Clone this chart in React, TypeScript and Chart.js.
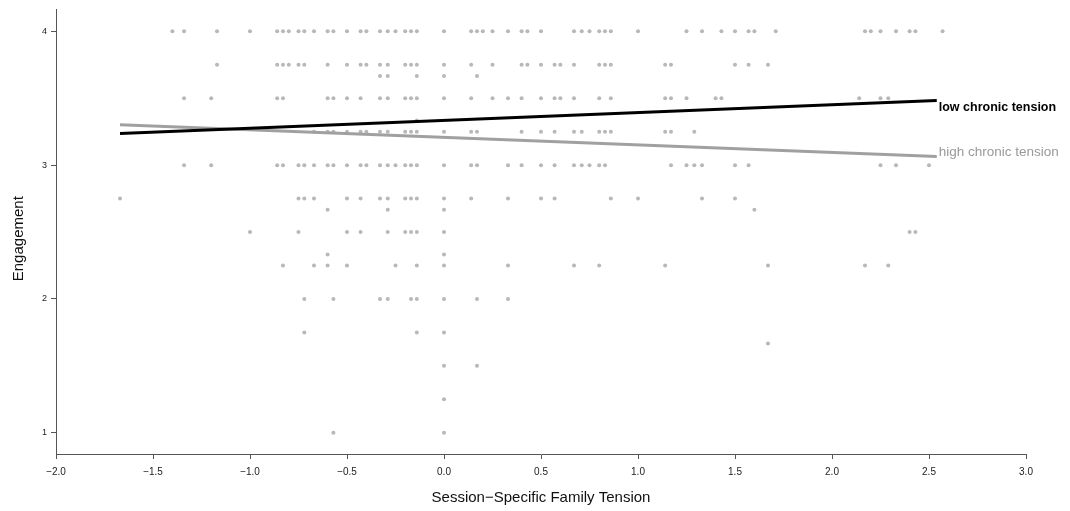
import React, { useEffect, useRef } from "react";
import { Chart, registerables } from "chart.js";

Chart.register(...registerables);

// ---- axis ticks ----
const xTickValues = [-2.0, -1.5, -1.0, -0.5, 0.0, 0.5, 1.0, 1.5, 2.0, 2.5, 3.0];
const yTickValues = [1, 2, 3, 4];
const xRange = [-2.0, 3.0];
const yRange = [0.841, 4.164];

// ---- fitted lines ----
const lineX = [-1.67, 2.54];
const lowChronicY = [3.236, 3.483];
const highChronicY = [3.302, 3.065];
const lowLabel = "low chronic tension";
const highLabel = "high chronic tension";
const xTitle = "Session\u2212Specific Family Tension";
const yTitle = "Engagement";

// ---- observed points: session-specific tension (x) at each engagement level ----
const eng400 = [-1.40, -1.34, -1.17, -1.00, -0.86, -0.83, -0.80, -0.75, -0.72, -0.67, -0.60, -0.57, -0.50, -0.43, -0.40, -0.33, -0.29, -0.25, -0.20, -0.17, -0.14, 0, 0.14, 0.17, 0.20, 0.25, 0.33, 0.40, 0.43, 0.50, 0.67, 0.71, 0.75, 0.80, 0.83, 0.86, 1.00, 1.25, 1.33, 1.43, 1.50, 1.57, 1.60, 1.71, 2.17, 2.20, 2.25, 2.33, 2.40, 2.43, 2.57];
const eng375 = [-1.17, -0.86, -0.83, -0.80, -0.75, -0.72, -0.60, -0.50, -0.43, -0.40, -0.33, -0.29, -0.20, -0.17, -0.14, 0, 0.14, 0.25, 0.40, 0.43, 0.50, 0.57, 0.60, 0.67, 0.80, 0.83, 0.86, 1.14, 1.17, 1.50, 1.57, 1.67];
const eng367 = [-0.33, -0.29, -0.14, 0, 0.17];
const eng350 = [-1.34, -1.20, -0.86, -0.83, -0.60, -0.57, -0.50, -0.43, -0.33, -0.29, -0.20, -0.17, -0.14, 0, 0.14, 0.25, 0.33, 0.40, 0.50, 0.57, 0.60, 0.67, 0.80, 0.86, 1.14, 1.17, 1.25, 1.40, 1.43, 2.14, 2.25, 2.29];
const eng333 = [-0.14];
const eng325 = [-0.67, -0.60, -0.57, -0.50, -0.43, -0.40, -0.33, -0.29, -0.20, -0.17, -0.14, 0, 0.14, 0.17, 0.40, 0.50, 0.57, 0.67, 0.71, 0.80, 0.83, 0.86, 1.14, 1.17, 1.29];
const eng300 = [-1.34, -1.20, -0.86, -0.83, -0.75, -0.72, -0.67, -0.60, -0.57, -0.50, -0.43, -0.40, -0.33, -0.29, -0.25, -0.20, -0.17, -0.14, 0, 0.14, 0.17, 0.33, 0.40, 0.50, 0.57, 0.67, 0.71, 0.75, 0.80, 0.83, 1.17, 1.25, 1.29, 1.33, 1.50, 1.57, 2.25, 2.33, 2.50];
const eng275 = [-1.67, -0.75, -0.72, -0.67, -0.50, -0.43, -0.33, -0.29, -0.20, -0.17, -0.14, 0, 0.14, 0.33, 0.50, 0.57, 0.86, 1.00, 1.33, 1.50];
const eng267 = [-0.60, -0.29, 0, 1.60];
const eng250 = [-1.00, -0.75, -0.50, -0.43, -0.29, -0.20, -0.17, -0.14, 0, 2.40, 2.43];
const eng233 = [-0.60, 0];
const eng225 = [-0.83, -0.67, -0.60, -0.50, -0.25, -0.14, 0, 0.33, 0.67, 0.80, 1.14, 1.67, 2.17, 2.29];
const eng200 = [-0.72, -0.57, -0.33, -0.29, -0.17, -0.14, 0, 0.17, 0.33];
const eng175 = [-0.72, -0.14, 0];
const eng167 = [1.67];
const eng150 = [0, 0.17];
const eng125 = [0];
const eng100 = [-0.57, 0];

const levelRows: [number, number[]][] = [
  [4.0, eng400], [3.75, eng375], [3.667, eng367], [3.5, eng350], [3.333, eng333],
  [3.25, eng325], [3.0, eng300], [2.75, eng275], [2.667, eng267], [2.5, eng250],
  [2.333, eng233], [2.25, eng225], [2.0, eng200], [1.75, eng175], [1.667, eng167],
  [1.5, eng150], [1.25, eng125], [1.0, eng100],
];

const FONT = "'Liberation Sans', Arial, Helvetica, sans-serif";

function fmtX(v: number): string {
  const s = Math.abs(v).toFixed(1);
  return v < 0 ? "\u2212" + s : s;
}

const lineLabelPlugin = {
  id: "lineLabels",
  afterDatasetsDraw(chart: any) {
    const ctx = chart.ctx;
    const draw = (dsIndex: number, text: string, color: string, weight: string, size: number, dy: number) => {
      const meta = chart.getDatasetMeta(dsIndex);
      const pts = meta.data;
      const last = pts[pts.length - 1];
      ctx.save();
      ctx.font = `${weight} ${size}px ${FONT}`;
      ctx.fillStyle = color;
      ctx.textAlign = "left";
      ctx.textBaseline = "middle";
      ctx.fillText(text, last.x + 2, last.y + dy);
      ctx.restore();
    };
    draw(0, lowLabel, "#000000", "bold", 12.5, 7);
    draw(1, highLabel, "#999999", "normal", 13.5, -4);

    // y-axis title, centred slightly below the axis midpoint as in the reference
    const area = chart.chartArea;
    ctx.save();
    ctx.font = `normal 15px ${FONT}`;
    ctx.fillStyle = "#111";
    ctx.textAlign = "center";
    ctx.textBaseline = "middle";
    ctx.translate(19, (area.top + area.bottom) / 2 + 7);
    ctx.rotate(-Math.PI / 2);
    ctx.fillText(yTitle, 0, 0);
    ctx.restore();
  },
};

export default function App() {
  const ref = useRef<HTMLCanvasElement | null>(null);

  useEffect(() => {
    if (!ref.current) return;
    const points: { x: number; y: number }[] = [];
    levelRows.forEach(([y, xs]) => xs.forEach((x) => points.push({ x, y })));

    const chart = new Chart(ref.current, {
      type: "scatter",
      data: {
        datasets: [
          {
            type: "line",
            label: lowLabel,
            data: lineX.map((x, i) => ({ x, y: lowChronicY[i] })),
            borderColor: "#000000",
            borderWidth: 3,
            pointRadius: 0,
            fill: false,
            order: 0,
          } as any,
          {
            type: "line",
            label: highLabel,
            data: lineX.map((x, i) => ({ x, y: highChronicY[i] })),
            borderColor: "#a0a0a0",
            borderWidth: 3,
            pointRadius: 0,
            fill: false,
            order: 1,
          } as any,
          {
            label: "observations",
            data: points,
            backgroundColor: "#b8b8b8",
            borderWidth: 0,
            pointRadius: 2,
            order: 2,
          },
        ],
      },
      options: {
        animation: false,
        responsive: false,
        events: [],
        layout: { padding: { left: 0, right: 44, top: 9, bottom: 0 } },
        plugins: {
          legend: { display: false },
          tooltip: { enabled: false },
        },
        scales: {
          x: {
            type: "linear",
            min: xRange[0],
            max: xRange[1],
            afterBuildTicks: (scale: any) => {
              scale.ticks = xTickValues.map((v) => ({ value: v }));
            },
            afterFit: (scale: any) => {
              scale.height = 57;
            },
            ticks: {
              callback: (v: any) => fmtX(Number(v)),
              font: { family: FONT, size: 10 },
              color: "#222",
              padding: 7,
              maxRotation: 0,
              autoSkip: false,
            },
            grid: {
              drawOnChartArea: false,
              drawTicks: true,
              tickLength: 5,
              color: "#555",
            },
            border: { display: true, color: "#555", width: 1 },
            title: {
              display: true,
              text: xTitle,
              font: { family: FONT, size: 15 },
              color: "#111",
              padding: { top: 0, bottom: 4 },
            },
          },
          y: {
            type: "linear",
            min: yRange[0],
            max: yRange[1],
            afterBuildTicks: (scale: any) => {
              scale.ticks = yTickValues.map((v) => ({ value: v }));
            },
            afterFit: (scale: any) => {
              scale.width = 56;
            },
            ticks: {
              callback: (v: any) => String(v),
              font: { family: FONT, size: 9 },
              color: "#222",
              padding: 4,
            },
            grid: {
              drawOnChartArea: false,
              drawTicks: true,
              tickLength: 5,
              color: "#555",
            },
            border: { display: true, color: "#555", width: 1 },
            title: { display: false },
          },
        },
      },
      plugins: [lineLabelPlugin],
    });
    return () => chart.destroy();
  }, []);

  return (
    <div style={{ position: "fixed", left: 0, top: 0, width: 1070, height: 511, background: "#fff" }}>
      <canvas ref={ref} width={1070} height={511} style={{ display: "block", width: 1070, height: 511 }} />
    </div>
  );
}
